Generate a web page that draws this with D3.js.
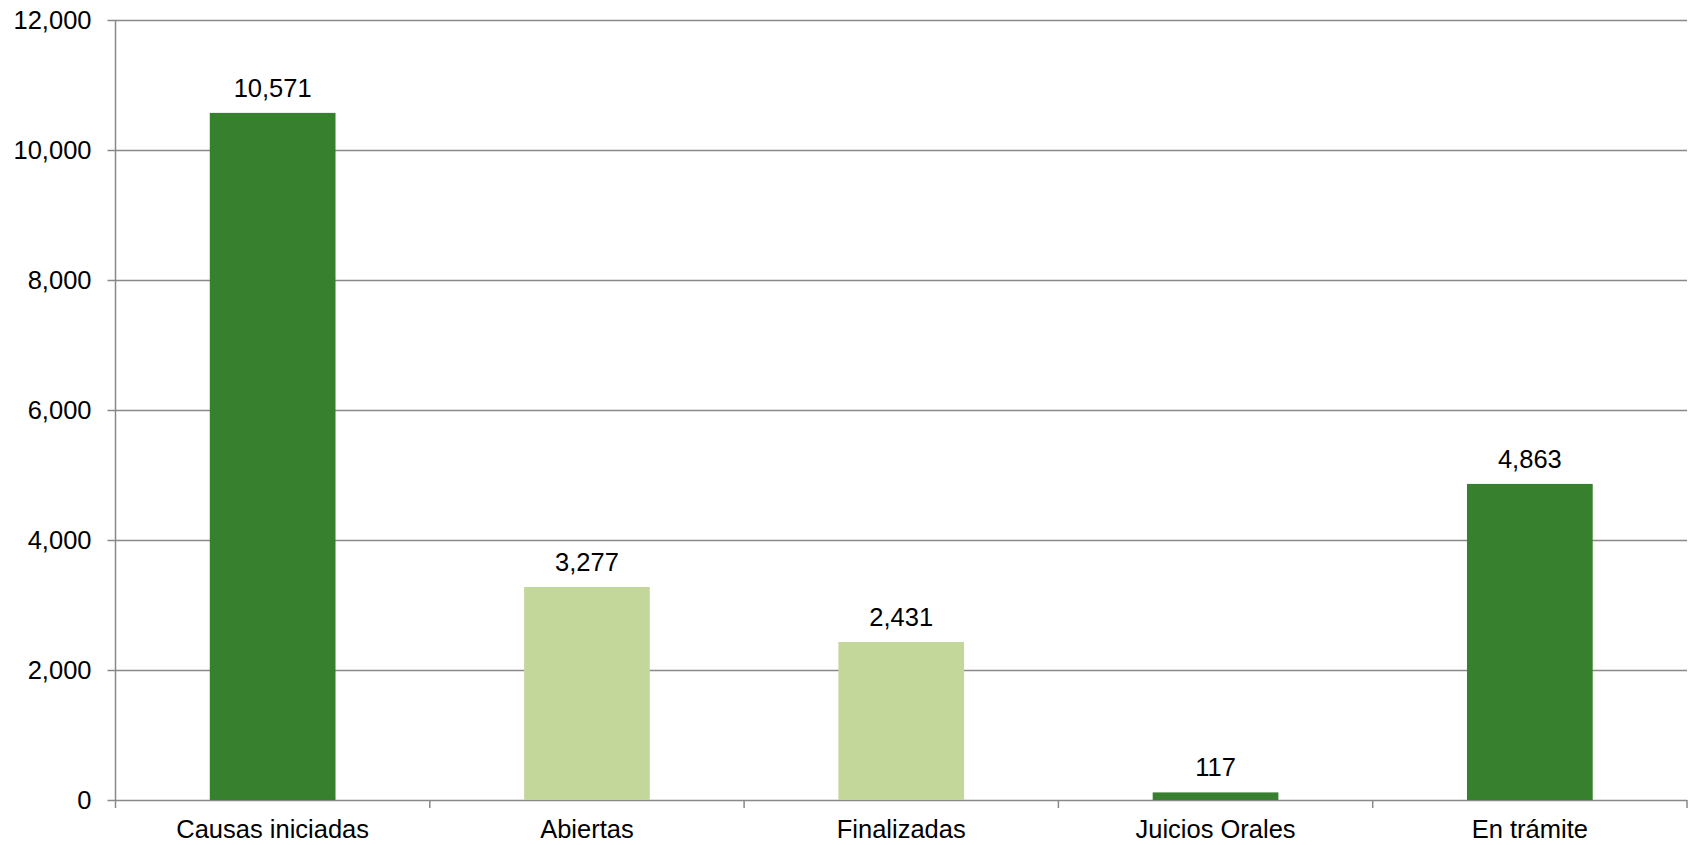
<!DOCTYPE html>
<html>
<head>
<meta charset="utf-8">
<script src="https://cdn.jsdelivr.net/npm/d3@7"></script>
<style>
  body { margin: 0; background: #fff; }
  svg { display: block; font-family: "Liberation Sans", Arial, sans-serif; }
</style>
</head>
<body>
<svg id="chart" width="1696" height="845"></svg>
<script>
var categories = ["Causas iniciadas", "Abiertas", "Finalizadas", "Juicios Orales", "En trámite"];
var values     = [10571, 3277, 2431, 117, 4863];
var barColors  = ["#37802e", "#c4d79b", "#c4d79b", "#37802e", "#37802e"];
var yTicks     = [0, 2000, 4000, 6000, 8000, 10000, 12000];

var margin = {top: 20, right: 9, bottom: 45, left: 115.5},
    width = 1696 - margin.left - margin.right,
    height = 845 - margin.top - margin.bottom;

var fmt = d3.format(",");
var gridColor = "#898989";
var fontSize = 25.5;

var svg = d3.select("#chart")
  .append("g")
    .attr("transform", "translate(" + margin.left + "," + margin.top + ")");

var x = d3.scaleBand()
    .domain(categories)
    .range([0, width])
    .padding(0);

var y = d3.scaleLinear()
    .domain([0, 12000])
    .range([height, 0]);

// gridlines
svg.append("g")
    .selectAll("line")
    .data(yTicks)
  .enter().append("line")
    .attr("x1", -8)
    .attr("x2", width)
    .attr("y1", function(d) { return Math.round(y(d)) + 0.5; })
    .attr("y2", function(d) { return Math.round(y(d)) + 0.5; })
    .attr("stroke", gridColor)
    .attr("stroke-width", 1.5);

// y labels
svg.append("g")
    .selectAll("text")
    .data(yTicks)
  .enter().append("text")
    .attr("x", -24)
    .attr("y", function(d) { return y(d); })
    .attr("dy", "0.35em")
    .attr("text-anchor", "end")
    .attr("font-size", fontSize)
    .attr("fill", "#000")
    .text(function(d) { return fmt(d); });

// y axis line
svg.append("line")
    .attr("x1", 0).attr("x2", 0)
    .attr("y1", 0).attr("y2", height)
    .attr("stroke", gridColor)
    .attr("stroke-width", 1.5);

// category boundary ticks
var bounds = categories.map(function(c) { return x(c); }).concat([width]);
svg.append("g")
    .selectAll("line")
    .data(bounds)
  .enter().append("line")
    .attr("x1", function(d) { return d; })
    .attr("x2", function(d) { return d; })
    .attr("y1", height)
    .attr("y2", height + 8)
    .attr("stroke", gridColor)
    .attr("stroke-width", 1.5);

// bars
var barWidth = x.bandwidth() * 0.4;
var bars = svg.append("g");
bars.selectAll("rect")
    .data(values)
  .enter().append("rect")
    .attr("x", function(d, i) { return x(categories[i]) + (x.bandwidth() - barWidth) / 2; })
    .attr("y", function(d) { return y(d); })
    .attr("width", barWidth)
    .attr("height", function(d) { return height - y(d); })
    .attr("fill", function(d, i) { return barColors[i]; });

// value labels
bars.selectAll("text")
    .data(values)
  .enter().append("text")
    .attr("x", function(d, i) { return x(categories[i]) + x.bandwidth() / 2; })
    .attr("y", function(d) { return y(d) - 16; })
    .attr("text-anchor", "middle")
    .attr("font-size", fontSize)
    .attr("fill", "#000")
    .text(function(d) { return fmt(d); });

// x labels
svg.append("g")
    .selectAll("text")
    .data(categories)
  .enter().append("text")
    .attr("x", function(d) { return x(d) + x.bandwidth() / 2; })
    .attr("y", height + 38)
    .attr("text-anchor", "middle")
    .attr("font-size", fontSize)
    .attr("fill", "#000")
    .text(function(d) { return d; });
</script>
</body>
</html>
